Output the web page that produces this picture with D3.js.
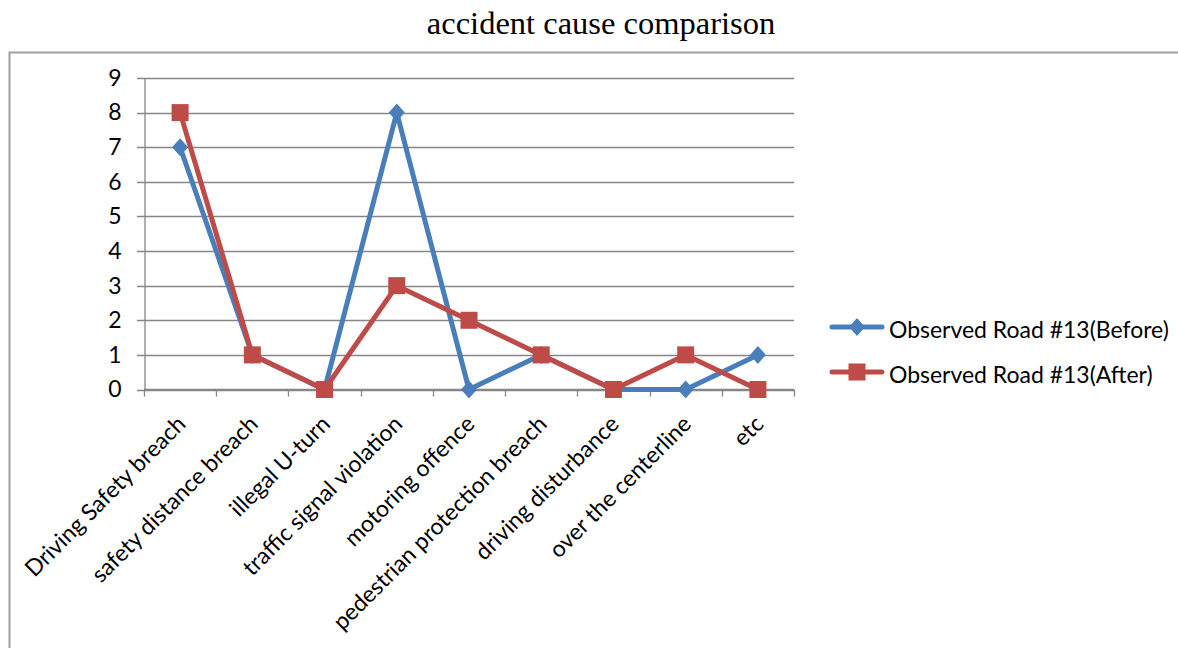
<!DOCTYPE html>
<html><head><meta charset="utf-8">
<script src="https://cdn.jsdelivr.net/npm/d3@7"></script>
<style>
html,body{margin:0;padding:0;background:#fff;}
svg{display:block;}
</style></head>
<body>
<script>
const categories = ["Driving Safety breach","safety distance breach","illegal U-turn","traffic signal violation","motoring offence","pedestrian protection breach","driving disturbance","over the centerline","etc"];
const beforeValues = [7,1,0,8,0,1,0,0,1];
const afterValues = [8,1,0,3,2,1,0,1,0];
const yTicks = [0,1,2,3,4,5,6,7,8,9];
const seriesNames = ["Observed Road #13(Before)","Observed Road #13(After)"];
const titleText = "accident cause comparison";

(function(){
const W = 1178, H = 648;
const svg = d3.select("body").append("svg").attr("width", W).attr("height", H);
const font = "Lato, 'Open Sans', sans-serif";

const probe = svg.append("text").attr("font-family", font).attr("font-size", 20).text(seriesNames[0]);
const pw = probe.node().getComputedTextLength();
probe.remove();
const fs = Math.max(16, Math.min(26, 20 * 280 / pw));

svg.append("path").attr("d", `M9.5,${H} L9.5,52.5 L${W},52.5`).attr("fill","none").attr("stroke","#a0a0a0").attr("stroke-width",2);

svg.append("text").attr("x", 601).attr("y", 34).attr("text-anchor","middle")
  .attr("font-family","'Liberation Serif','Times New Roman',serif").attr("font-size",32.5).attr("fill","#000").text(titleText);

const pl = 144, pr = 794, pt = 78, pb = 389.5;
const x = d3.scaleBand().domain(categories).range([pl, pr]).paddingInner(0).paddingOuter(0);
const y = d3.scaleLinear().domain([0, 9]).range([pb, pt]);

svg.append("g").selectAll("line").data(yTicks).join("line")
  .attr("x1", pl - 7).attr("x2", pr)
  .attr("y1", d => Math.round(y(d)) + 0.5).attr("y2", d => Math.round(y(d)) + 0.5)
  .attr("stroke", "#868686").attr("stroke-width", 1.3);

const yAxis = svg.append("g").attr("transform", `translate(${pl + 0.5},0)`)
  .call(d3.axisLeft(y).tickValues(yTicks).tickSize(0).tickPadding(23));
yAxis.select(".domain").attr("stroke","#868686").attr("stroke-width",1.3);
yAxis.selectAll("text").attr("font-family", font).attr("font-size", fs).attr("fill","#000");

const bounds = categories.map(c => x(c)).concat([pr]);
svg.append("line").attr("x1", pl).attr("x2", pr).attr("y1", pb).attr("y2", pb)
  .attr("stroke","#868686").attr("stroke-width",1.3);
svg.append("g").selectAll("line").data(bounds).join("line")
  .attr("x1", d => Math.round(d) + 0.5).attr("x2", d => Math.round(d) + 0.5)
  .attr("y1", pb).attr("y2", pb + 7)
  .attr("stroke","#868686").attr("stroke-width",1.3);

svg.append("g").selectAll("text").data(categories).join("text")
  .attr("transform", d => `translate(${x(d) + x.bandwidth()/2 + 7},${pb + 36}) rotate(-45)`)
  .attr("text-anchor","end").attr("font-family", font).attr("font-size", fs).attr("fill","#000")
  .text(d => d);

const cx = d => x(d) + x.bandwidth()/2;
const colors = ["#4a7ebb", "#be4b48"];
const series = [beforeValues, afterValues];
const line = d3.line().x((v,i) => cx(categories[i])).y(v => y(v));

series.forEach((vals, si) => {
  svg.append("path").datum(vals).attr("d", line).attr("fill","none")
    .attr("stroke", colors[si]).attr("stroke-width", 5).attr("stroke-linejoin","round");
});
function marker(g, si, px, py) {
  if (si === 0) {
    g.append("path").attr("d", `M${px},${py-9} L${px+8},${py} L${px},${py+9} L${px-8},${py} Z`).attr("fill", colors[0]);
  } else {
    g.append("rect").attr("x", px-8.5).attr("y", py-8.5).attr("width",17).attr("height",17).attr("fill", colors[1]);
  }
}
series.forEach((vals, si) => {
  const g = svg.append("g");
  vals.forEach((v,i) => marker(g, si, cx(categories[i]), y(v)));
});

const legY = [327, 372];
seriesNames.forEach((name, si) => {
  const g = svg.append("g");
  g.append("line").attr("x1", 832).attr("x2", 882).attr("y1", legY[si]).attr("y2", legY[si])
    .attr("stroke", colors[si]).attr("stroke-width", 5).attr("stroke-linecap","round");
  marker(g, si, 857, legY[si]);
  g.append("text").attr("x", 889).attr("y", legY[si] + 3).attr("dy","0.35em")
    .attr("font-family", font).attr("font-size", fs).attr("fill","#000").text(name);
});
})();
</script>
</body></html>
